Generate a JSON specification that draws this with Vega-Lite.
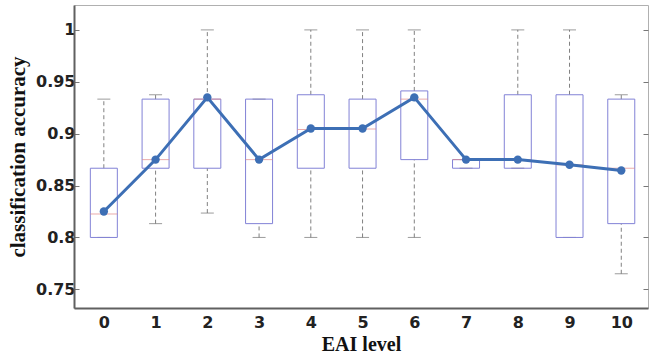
{
  "$schema": "https://vega.github.io/schema/vega-lite/v6.json",
  "width": 574,
  "height": 303,
  "autosize": {"type": "none"},
  "padding": {"left": 74, "top": 5, "right": 2, "bottom": 50},
  "background": "white",
  "config": {
    "view": {"stroke": "#b0b0b0", "strokeWidth": 1},
    "axis": {"grid": false, "labelFont": "DejaVu Sans", "labelFontWeight": "bold", "labelFontSize": 16, "labelColor": "#222", "titleFont": "Liberation Serif", "titleFontWeight": "bold", "titleFontSize": 21, "titleColor": "#111", "domainColor": "#606060", "domainWidth": 2, "tickColor": "#777"}
  },
  "data": {"values": [
    {"level": 0, "lower": 0.8, "q1": 0.8, "median": 0.8226, "q3": 0.8667, "upper": 0.9333, "mean": 0.825},
    {"level": 1, "lower": 0.8133, "q1": 0.8667, "median": 0.875, "q3": 0.9333, "upper": 0.9375, "mean": 0.875},
    {"level": 2, "lower": 0.8235, "q1": 0.8667, "median": 0.9333, "q3": 0.9333, "upper": 1.0, "mean": 0.935},
    {"level": 3, "lower": 0.8, "q1": 0.8133, "median": 0.875, "q3": 0.9333, "upper": 0.9333, "mean": 0.875},
    {"level": 4, "lower": 0.8, "q1": 0.8667, "median": 0.904, "q3": 0.9375, "upper": 1.0, "mean": 0.905},
    {"level": 5, "lower": 0.8, "q1": 0.8667, "median": 0.9045, "q3": 0.9333, "upper": 1.0, "mean": 0.905},
    {"level": 6, "lower": 0.8, "q1": 0.875, "median": 0.9333, "q3": 0.9412, "upper": 1.0, "mean": 0.935},
    {"level": 7, "lower": 0.8667, "q1": 0.8667, "median": 0.875, "q3": 0.875, "upper": 0.875, "mean": 0.875},
    {"level": 8, "lower": 0.8667, "q1": 0.8667, "median": 0.875, "q3": 0.9375, "upper": 1.0, "mean": 0.875},
    {"level": 9, "lower": 0.8, "q1": 0.8, "median": 0.87, "q3": 0.9375, "upper": 1.0, "mean": 0.87},
    {"level": 10, "lower": 0.765, "q1": 0.8133, "median": 0.8667, "q3": 0.9333, "upper": 0.9375, "mean": 0.8645}
  ]},
  "encoding": {
    "x": {"field": "level", "type": "quantitative", "scale": {"domain": [-0.48, 10.42], "nice": false, "zero": false},
      "axis": {"values": [0,1,2,3,4,5,6,7,8,9,10], "title": "EAI level", "titleFontSize": 20, "ticks": false, "labelPadding": 6, "titlePadding": 4, "format": "d"}}
  },
  "layer": [
    {
      "layer": [
        {"mark": {"type": "rule", "color": "#808080", "strokeDash": [4, 3], "strokeWidth": 1},
         "encoding": {"y": {"field": "q3", "type": "quantitative", "scale": {"domain": [0.732, 1.024], "nice": false, "zero": false},
            "axis": {"values": [0.75, 0.8, 0.85, 0.9, 0.95, 1], "title": "classification accuracy", "tickSize": -5, "labelPadding": 4, "titlePadding": 7, "format": "~g"}},
           "y2": {"field": "upper"}}},
        {"mark": {"type": "rule", "color": "#808080", "strokeDash": [4, 3], "strokeWidth": 1},
         "encoding": {"y": {"field": "lower", "type": "quantitative"}, "y2": {"field": "q1"}}},
        {"mark": {"type": "tick", "orient": "horizontal", "color": "#707070", "size": 13, "thickness": 1},
         "encoding": {"y": {"field": "upper", "type": "quantitative"}}},
        {"mark": {"type": "tick", "orient": "horizontal", "color": "#707070", "size": 13, "thickness": 1},
         "encoding": {"y": {"field": "lower", "type": "quantitative"}}},
        {"mark": {"type": "bar", "size": 27, "fill": "white", "fillOpacity": 0, "stroke": "#8282d6", "strokeWidth": 1},
         "encoding": {"y": {"field": "q1", "type": "quantitative"}, "y2": {"field": "q3"}}},
        {"mark": {"type": "tick", "orient": "horizontal", "color": "#e08888", "size": 27, "thickness": 1},
         "encoding": {"y": {"field": "median", "type": "quantitative"}}},
        {"mark": {"type": "line", "color": "#3d6fb5", "strokeWidth": 3, "point": {"filled": true, "size": 70, "color": "#3d6fb5"}},
         "encoding": {"y": {"field": "mean", "type": "quantitative"}}}
      ]
    },
    {"mark": {"type": "point", "opacity": 0},
     "encoding": {"y": {"field": "mean", "type": "quantitative", "scale": {"domain": [0.732, 1.024], "nice": false, "zero": false},
        "axis": {"orient": "right", "values": [0.75, 0.8, 0.85, 0.9, 0.95, 1], "title": null, "labels": false, "domain": false, "tickSize": -5}}}}
  ],
  "resolve": {"scale": {"y": "independent"}}
}
